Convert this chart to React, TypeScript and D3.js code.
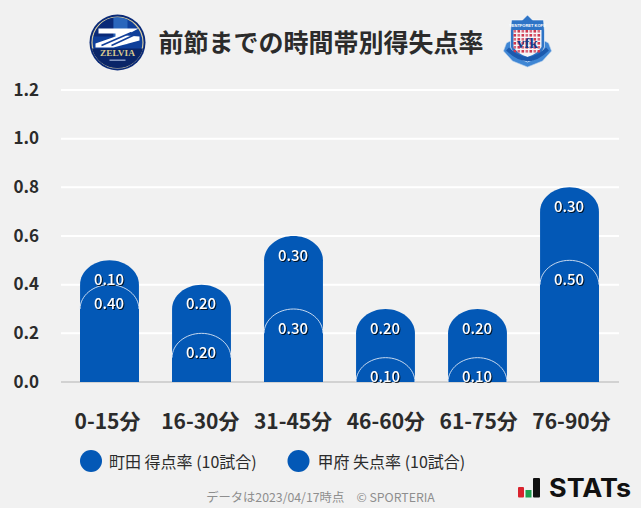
import React from "react";
import * as d3 from "d3";

const categories = ["0-15分", "16-30分", "31-45分", "46-60分", "61-75分", "76-90分"];
const homeValues = [0.4, 0.2, 0.3, 0.1, 0.1, 0.5];
const awayValues = [0.1, 0.2, 0.3, 0.2, 0.2, 0.3];
const yTicks = [0, 0.2, 0.4, 0.6, 0.8, 1.0, 1.2];
const legendLabels = ["町田 得点率 (10試合)", "甲府 失点率 (10試合)"];
const titleText = "前節までの時間帯別得失点率";
const footerText = "データは2023/04/17時点　© SPORTERIA";

const FONT = "'Noto Sans CJK JP','Noto Sans',sans-serif";
const BLUE = "#0358B6";

const x = d3.scaleBand<string>().domain(categories).range([63.5, 615.5]).paddingInner(0.36).paddingOuter(0.18);
const xLabel = d3.scalePoint<string>().domain(categories).range([107.5, 571.5]);
const y = d3.scaleLinear().domain([0, 1.2]).range([382, 90]);

function domePath(cx: number, w: number, top: number, base: number, ry: number) {
  const p = d3.path();
  const l = cx - w / 2;
  const r = cx + w / 2;
  p.moveTo(l, base);
  p.lineTo(l, top + ry);
  p.bezierCurveTo(l, top + ry * 0.45, cx - (w / 2) * 0.55, top, cx, top);
  p.bezierCurveTo(cx + (w / 2) * 0.55, top, r, top + ry * 0.45, r, top + ry);
  p.lineTo(r, base);
  p.closePath();
  return p.toString();
}

function arcPath(cx: number, w: number, top: number, ry: number) {
  const p = d3.path();
  const l = cx - w / 2;
  const r = cx + w / 2;
  p.moveTo(l, top + ry);
  p.bezierCurveTo(l, top + ry * 0.45, cx - (w / 2) * 0.55, top, cx, top);
  p.bezierCurveTo(cx + (w / 2) * 0.55, top, r, top + ry * 0.45, r, top + ry);
  return p.toString();
}

const shadow = { filter: "drop-shadow(1px 1px 0.5px rgba(0,0,0,0.8))" };

function ValueLabel({ cx, yy, v }: { cx: number; yy: number; v: number }) {
  return (
    <text x={cx} y={yy} textAnchor="middle" dominantBaseline="central" fontSize={15} fontWeight={500} fill="#fff" style={shadow}>
      {v.toFixed(2)}
    </text>
  );
}

function ZelviaLogo() {
  return (
    <g transform="translate(117.5,42.5)">
      <circle r={28} fill="#0A2A78" />
      <circle r={25.5} fill="#0F3F9A" stroke="#D8CDA0" strokeWidth={1.2} />
      <path d="M-24,-6 A25,25 0 0 1 -4,-25 L-4,-6 Z" fill="#0A2A78" />
      <path d="M-4,-25 A25,25 0 0 1 10,-23 L10,2 L-4,2 Z" fill="#2A66BC" />
      <path d="M-19,-14 H21 L8,-7 L22,-6 V-2 L-4,5 H-22 V1 L-2,-6 L-2,-9 H-19 Z" fill="#fff" />
      <path d="M-16,3 L14,-10 M-6,3 L22,-10" stroke="#123F9A" strokeWidth={1.6} />
      <path d="M-25.5,6 H25.5 A26,26 0 0 1 0,25.5 A26,26 0 0 1 -25.5,6 Z" fill="#0A2568" />
      <text x={0} y={13.5} textAnchor="middle" fontSize={9} fontWeight={700} fill="#D8C98E" fontFamily="'Liberation Serif',serif" textLength={35} lengthAdjust="spacingAndGlyphs">ZELVIA</text>
      <rect x={-8} y={17} width={16} height={1.4} fill="#8FA3CC" />
    </g>
  );
}

function KofuLogo() {
  const cells = d3.range(0, 6).flatMap((r) => d3.range(0, 7).map((c) => [r, c]));
  return (
    <g transform="translate(527.5,41)">
      <path d="M-21,2 L-24,10 L-15,20 L0,26 L15,20 L24,10 L21,2 L13,-2 H-13 Z" fill="#3F86D4" stroke="#BBD3EE" strokeWidth={0.6} />
      <path d="M0,-26 L5,-21 L16,-21 L17,-10 L17,6 Q14,16 0,21 Q-14,16 -17,6 L-17,-10 L-16,-21 L-5,-21 Z" fill="#2E74C6" stroke="#fff" strokeWidth={0.6} />
      <path d="M-14,-11 H14 V6 Q10,13 0,16 Q-10,13 -14,6 Z" fill="#F6F6F8" />
      {cells.map(([r, c]) => (
        <rect key={`${r}-${c}`} x={-14 + c * 4} y={-11 + r * 4} width={2.6} height={2.6} fill={(r + c) % 2 ? "#D0384E" : "#D86A7C"} />
      ))}
      <text x={0} y={7} textAnchor="middle" fontSize={15} fontWeight={700} fill="#173A86" fontFamily="'Liberation Serif',serif">vfk</text>
      <path d="M-20,8 Q0,28 20,8" fill="none" stroke="#1C5AAE" strokeWidth={4} />
      <text x={0} y={-14} textAnchor="middle" fontSize={4} fontWeight={700} fill="#fff" fontFamily="'Liberation Sans',sans-serif">VENTFORET KOFU</text>
    </g>
  );
}

export default function App() {
  const w = x.bandwidth();
  const ry = y(0) - y(0.1);
  return (
    <svg
      width={641}
      height={508}
      viewBox="0 0 641 508"
      style={{ position: "absolute", left: 0, top: 0, display: "block", background: "#F1F1F1" }}
      fontFamily={FONT}
    >
      <rect width={641} height={508} fill="#F1F1F1" />
      <ZelviaLogo />
      <text x={321} y={41} textAnchor="middle" dominantBaseline="central" fontSize={25} fontWeight={700} fill="#2B2B2B">{titleText}</text>
      <KofuLogo />

      {yTicks.map((t) => (
        <g key={t}>
          <line x1={61} x2={619} y1={y(t)} y2={y(t)} stroke={t === 0 ? "#D2D2D2" : "#FFFFFF"} strokeWidth={2} />
          <text x={39} y={y(t) - 2} textAnchor="end" dominantBaseline="central" fontSize={17} fontWeight={700} fill="#2B2B2B">{t.toFixed(1)}</text>
        </g>
      ))}

      {categories.map((c, i) => {
        const cx = (x(c) as number) + w / 2;
        const homeTop = y(homeValues[i]);
        const totalTop = y(homeValues[i] + awayValues[i]);
        return (
          <g key={c}>
            <path d={domePath(cx, w, totalTop, y(0), ry)} fill={BLUE} />
            <path d={domePath(cx, w, homeTop, y(0), ry)} fill={BLUE} />
            <path d={arcPath(cx, w, homeTop, ry)} fill="none" stroke="#DCE6F5" strokeWidth={0.9} />
            <ValueLabel cx={cx - 0.5} yy={totalTop + 18} v={awayValues[i]} />
            <ValueLabel cx={cx - 0.5} yy={homeTop + 18} v={homeValues[i]} />
            <text x={xLabel(c)} y={420} textAnchor="middle" dominantBaseline="central" fontSize={21} fontWeight={700} fill="#2B2B2B">{c}</text>
          </g>
        );
      })}

      {legendLabels.map((l, i) => {
        const cx = [91, 298.5][i];
        return (
          <g key={l}>
            <circle cx={cx} cy={461} r={11} fill={BLUE} />
            <text x={cx + 18 + i} y={460.5} dominantBaseline="central" fontSize={16} fill="#2B2B2B">{l}</text>
          </g>
        );
      })}

      <text x={320.5} y={497} textAnchor="middle" dominantBaseline="central" fontSize={12.3} fill="#8E8E8E">{footerText}</text>

      <g>
        <rect x={518} y={487} width={6} height={10.5} rx={1} fill="#D9232E" />
        <rect x={525.5} y={490} width={6} height={7.5} fill="#1FA050" />
        <rect x={533} y={478} width={7} height={19.5} rx={1} fill="#111" />
        <text x={549} y={497} fontSize={25} fontWeight={700} fill="#111" fontFamily="'Inter',sans-serif" textLength={82} lengthAdjust="spacingAndGlyphs">STATs</text>
      </g>
    </svg>
  );
}
